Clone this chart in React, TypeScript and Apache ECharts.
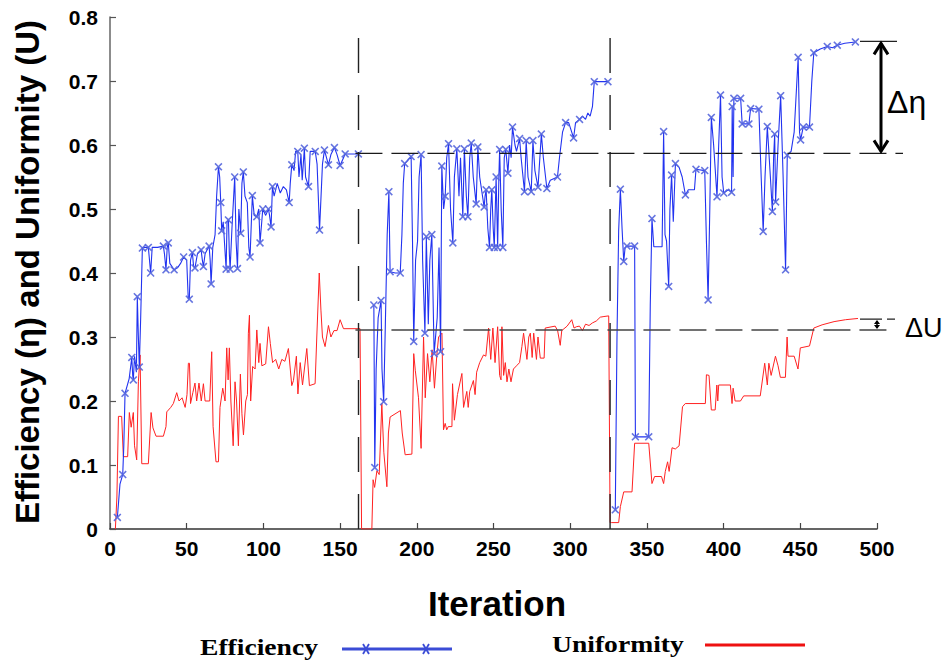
import React, { useEffect, useRef } from "react";
import * as echarts from "echarts";

// ---------- data (iteration, value, marker flag) ----------
const effPhase1: number[][] = [
  [4.8,0.018,1],[6.5,0.07,0],[8.3,0.085,1],[9,0.13,0],[9.8,0.212,1],[12.5,0.235,0],[14.2,0.268,1],[14.8,0.24,0],[15.2,0.233,1],[16,0.27,0],[17.2,0.245,0],[17.8,0.363,1],[18.5,0.3,0],[19.1,0.253,1],[20,0.33,0],[21.1,0.439,1],[23,0.44,0],[25,0.44,1],[26.5,0.4,1],[27.5,0.44,0],[31,0.44,0],[34.8,0.442,1],[35.5,0.43,0],[36.5,0.405,1],[37.3,0.44,0],[38,0.447,1],[39,0.415,0],[41.8,0.405,1],[44,0.408,0],[46,0.415,0],[48,0.425,1],[50,0.42,0],[51,0.36,0],[51.7,0.359,1],[52.5,0.42,0],[53.7,0.432,1],[54.5,0.41,0],[55.4,0.408,1],[57,0.43,0],[59.4,0.436,1],[60.2,0.42,0],[60.9,0.41,1],[62,0.43,0],[64.6,0.442,1],[65.3,0.42,0],[65.9,0.383,1],[67,0.44,0],[68.5,0.46,0],[69.5,0.52,0],[70.7,0.566,1],[71.5,0.55,0],[72.2,0.51,1],[72.8,0.466,1],[73.8,0.48,0],[75.7,0.406,1],[76.3,0.48,0],[77.2,0.483,1],[77.8,0.43,0],[78.3,0.406,1],[79.5,0.47,0],[81.3,0.55,1],[82.2,0.45,0],[83.1,0.407,1],[84,0.5,0],[85.2,0.462,1],[86,0.54,0],[86.9,0.558,1],[88,0.52,0],[89.5,0.51,0],[90.5,0.44,0],[91.3,0.425,1],[92.8,0.521,1],[94,0.49,0],[95.7,0.488,1],[97,0.5,0],[97.8,0.447,1],[99.6,0.5,1],[101.5,0.49,0],[103.3,0.5,1],[104,0.49,0],[105,0.472,1],[105.9,0.535,1],[107,0.52,0],[109,0.54,0],[111,0.525,0],[113,0.535,0],[115,0.53,0],[116.8,0.51,1],[117.5,0.54,0],[118.5,0.569,1],[120,0.56,0],[121,0.59,0],[122.4,0.59,1],[123.2,0.55,0],[124.5,0.585,0],[125.3,0.545,0],[126.7,0.595,1],[127.5,0.55,0],[129.4,0.535,1],[130.5,0.59,0],[133.8,0.59,1],[135,0.57,0],[136.6,0.467,1],[138.5,0.57,0],[139.8,0.592,1],[142.4,0.569,1],[144,0.585,0],[146.3,0.596,1],[148,0.585,0],[150,0.568,1],[153.3,0.586,1],[161.9,0.586,1]
];

const effPhase2: number[][] = [
  [172.0,0.35,1],[172.6,0.096,1],[173.5,0.25,0],[174.8,0.33,0],[176.7,0.357,1],[177.3,0.25,0],[178.4,0.199,1],[179.5,0.32,0],[180.7,0.46,0],[181.8,0.527,1],[182.6,0.402,1],[186,0.4,0],[189.2,0.4,1],[190.3,0.46,0],[191.2,0.54,0],[192.1,0.571,1],[196.3,0.582,1],[197.2,0.45,0],[198,0.293,1],[199.2,0.42,0],[200.5,0.45,0],[201.5,0.55,0],[202.8,0.585,1],[203.8,0.42,0],[205.3,0.306,1],[206.2,0.457,1],[207.5,0.32,0],[208.5,0.42,0],[209.8,0.46,1],[211.3,0.274,1],[213.3,0.33,0],[214.5,0.44,0],[215.5,0.277,1],[216.3,0.567,1],[217.5,0.5,0],[218.5,0.52,1],[219.5,0.58,0],[220.7,0.602,1],[222,0.5,0],[223.5,0.447,1],[224.5,0.55,0],[226.1,0.594,1],[227.5,0.52,0],[228.5,0.58,0],[230,0.488,1],[231,0.594,1],[232.3,0.52,0],[233.3,0.488,1],[234.5,0.58,0],[235.5,0.603,1],[236.8,0.55,0],[238.7,0.508,1],[239.8,0.597,1],[241,0.55,0],[243.9,0.503,1],[244.5,0.52,0],[245.2,0.53,1],[246.3,0.47,0],[247.4,0.44,1],[248.2,0.5,0],[248.9,0.53,1],[249.8,0.47,0],[250.5,0.44,1],[251.7,0.55,1],[252.7,0.44,1],[253.5,0.55,0],[254,0.593,1],[255,0.5,0],[256.1,0.44,1],[257,0.58,0],[258,0.593,1],[259.4,0.556,1],[260.5,0.6,0],[261.5,0.58,0],[262.4,0.628,1],[264,0.6,0],[265,0.59,0],[267,0.61,1],[268,0.58,0],[270.2,0.527,1],[271.3,0.607,1],[272.5,0.55,0],[274.6,0.527,1],[275.7,0.607,1],[277,0.56,0],[279,0.534,1],[281.2,0.617,1],[282.5,0.58,0],[284.8,0.532,1],[287,0.545,0],[291.7,0.55,1],[293,0.58,0],[295,0.62,0],[297,0.635,1],[299,0.635,0],[301,0.62,0],[302.2,0.611,1],[303.5,0.635,0],[306.1,0.64,1],[308,0.645,0],[310,0.64,0],[311.5,0.65,0],[313,0.645,0],[314.5,0.66,0],[315.7,0.699,1],[324.6,0.699,1]
];

const effPhase3: number[][] = [
  [329.4,0.03,1],[330.5,0.3,0],[331.6,0.467,0],[332.7,0.531,1],[333.8,0.47,0],[334.9,0.418,1],[335.8,0.44,0],[337,0.442,1],[342,0.442,1],[342.5,0.144,1],[351.2,0.144,1],[352.2,0.35,0],[353.3,0.485,1],[354.5,0.441,0],[359.9,0.441,0],[360.9,0.621,1],[361.8,0.46,0],[362.8,0.45,0],[364.2,0.379,1],[365,0.5,0],[366.1,0.553,1],[367.2,0.48,0],[368.6,0.571,1],[371,0.565,0],[373,0.55,0],[375.1,0.522,1],[377,0.53,0],[381,0.53,0],[382,0.562,1],[387.7,0.56,1],[388.8,0.45,0],[389.9,0.358,1],[391,0.5,0],[392,0.643,1],[393.5,0.6,0],[395.7,0.519,1],[396.8,0.6,0],[398,0.678,1],[399,0.55,0],[400.1,0.525,1],[403,0.53,0],[405.2,0.526,1],[405.6,0.66,1],[406.2,0.55,0],[406.7,0.673,1],[411.1,0.673,1],[412.1,0.633,1],[416.5,0.633,1],[417.6,0.657,1],[423,0.656,1],[424.5,0.55,0],[425.8,0.465,1],[427,0.55,0],[428.5,0.629,1],[430.5,0.55,0],[431.8,0.496,1],[432.6,0.58,0],[433.3,0.617,1],[433.9,0.511,1],[435.5,0.6,0],[437.2,0.677,1],[438.8,0.55,0],[440.4,0.405,1],[441.5,0.584,1],[444,0.59,0],[446,0.62,0],[448.6,0.737,1],[449.5,0.62,0],[450.2,0.608,1],[451.9,0.628,1],[456,0.628,1],[457.5,0.7,0],[458.8,0.744,1],[463,0.75,0],[467.6,0.754,1],[471,0.752,0],[474.1,0.756,1],[479,0.759,0],[485.9,0.761,1]
];

const uniPhase1: number[][] = [
  [3.5,0],[4.5,0.05],[5.5,0.176],[7.6,0.176],[8.7,0.113],[11.5,0.113],[12.6,0.182],[13.8,0.159],[15.2,0.182],[16,0.13],[17.4,0.108],[18.5,0.23],[19.6,0.272],[20.7,0.102],[25,0.102],[26.8,0.182],[28,0.158],[30,0.145],[34.8,0.145],[36.5,0.16],[37,0.183],[39.6,0.19],[41.3,0.196],[43.5,0.213],[45,0.2],[47,0.205],[49,0.19],[50.2,0.21],[51.1,0.259],[51.8,0.259],[52.5,0.196],[54,0.213],[55.4,0.228],[56.5,0.2],[58,0.228],[59.5,0.2],[60.9,0.227],[62,0.2],[65,0.2],[66.3,0.277],[67.2,0.16],[69.1,0.105],[70.7,0.105],[71.7,0.19],[73.5,0.22],[75,0.2],[76.1,0.283],[77,0.233],[77.8,0.283],[78.8,0.2],[80.3,0.13],[81.5,0.23],[82.5,0.2],[83.7,0.13],[85,0.242],[86,0.18],[87,0.147],[88.5,0.2],[89.6,0.21],[90.2,0.306],[90.9,0.334],[91.7,0.2],[93,0.254],[94.6,0.25],[95.7,0.311],[97,0.26],[97.8,0.29],[99,0.255],[101.5,0.258],[103.3,0.316],[104.5,0.29],[106,0.26],[108,0.265],[110,0.25],[112,0.265],[114,0.262],[116.3,0.282],[118.5,0.224],[119.6,0.232],[121.5,0.27],[122.5,0.211],[124,0.26],[125.5,0.225],[128.3,0.282],[130,0.224],[133.7,0.227],[134.8,0.3],[136.4,0.4],[137.5,0.342],[138.5,0.3],[140.2,0.285],[142.4,0.318],[144,0.3],[146,0.31],[148,0.31],[150,0.327],[152.2,0.313],[163,0.313],[164,0]
];

const uniPhase2: number[][] = [
  [170.7,0],[171.5,0.077],[172.5,0.065],[174,0.091],[175.5,0.085],[177.2,0.196],[178.5,0.12],[180.5,0.066],[181.5,0.15],[182.6,0.175],[189.3,0.185],[190.5,0.15],[192.4,0.116],[196.8,0.117],[198,0.274],[199,0.248],[201.1,0.205],[202.8,0.126],[204.4,0.3],[205.5,0.205],[207,0.274],[208.5,0.23],[210,0.28],[211.5,0.22],[213,0.27],[214.2,0.3],[216.4,0.306],[217.4,0.155],[218.5,0.165],[219.5,0.155],[220.5,0.16],[222.9,0.16],[223.3,0.227],[224.5,0.17],[226.5,0.21],[229.4,0.243],[230.5,0.19],[232.6,0.215],[233.5,0.19],[234.5,0.215],[236.9,0.232],[238,0.21],[239,0.245],[241,0.26],[243.5,0.272],[245,0.27],[246.8,0.314],[248.2,0.265],[249.6,0.314],[251,0.26],[252.7,0.316],[254,0.24],[254.9,0.233],[255.5,0.316],[256.6,0.24],[257.7,0.26],[258.8,0.23],[260,0.25],[261.4,0.23],[263,0.25],[265,0.255],[267,0.26],[268.5,0.285],[269.6,0.306],[271.8,0.265],[273,0.3],[274,0.306],[275.2,0.268],[276.2,0.306],[278,0.265],[279,0.3],[280.5,0.267],[283,0.267],[283.7,0.314],[290.2,0.317],[291.8,0.31],[293.5,0.287],[294.5,0.31],[298,0.317],[301,0.327],[302.5,0.314],[304,0.316],[306,0.317],[308,0.31],[310,0.32],[312.3,0.318],[314.5,0.322],[317,0.325],[319.6,0.331],[322,0.332],[325.1,0.333],[326,0.01]
];

const uniPhase3: number[][] = [
  [326.8,0.01],[331.6,0.01],[332.7,0.035],[334.9,0.058],[340.3,0.058],[342,0.134],[351.2,0.134],[353.3,0.071],[355,0.082],[359.5,0.082],[360.9,0.071],[362,0.09],[363.5,0.105],[364.5,0.09],[366.4,0.127],[368.5,0.125],[371,0.13],[373.2,0.191],[375,0.196],[388.1,0.196],[388.8,0.241],[390.5,0.24],[392,0.186],[394.5,0.186],[395.6,0.225],[396.2,0.2],[396.8,0.225],[404.4,0.225],[405.5,0.196],[406.2,0.22],[407.5,0.2],[411,0.2],[413.1,0.208],[423.9,0.208],[426.8,0.259],[428.5,0.225],[429.5,0.259],[431,0.24],[433.8,0.27],[435.5,0.255],[437,0.237],[440.3,0.237],[441.4,0.3],[442,0.27],[446,0.27],[448.5,0.25],[450,0.283],[456,0.286],[458.8,0.314],[464.2,0.319],[472,0.324],[479.4,0.327],[487.6,0.329]
];

// annotation levels
const phaseBoundaries = [162, 326];
const effReference = 0.587;
const effFinal = 0.762;
const uniReference = 0.311;
const uniFinal = 0.328;

const X_MARK =
  "path://M0,1.4L1.4,0L5,3.6L8.6,0L10,1.4L6.4,5L10,8.6L8.6,10L5,6.4L1.4,10L0,8.6L3.6,5Z";

const BLUE = "#2233f0";
const MARK = "#5566dd";
const RED = "#ff2222";

export default function App() {
  const ref = useRef<HTMLDivElement>(null);

  useEffect(() => {
    if (!ref.current) return;
    const chart = echarts.init(ref.current, null, { renderer: "svg" });
    const xy = (arr: number[][]) => arr.map((p) => [p[0], p[1]]);
    const marks = [...effPhase1, ...effPhase2, ...effPhase3]
      .filter((p) => p[2] === 1)
      .map((p) => [p[0], p[1]]);
    const uniAll = [...uniPhase1, ...uniPhase2, ...uniPhase3];

    const blueLine = (data: number[][]) => ({
      type: "line",
      data: xy(data),
      showSymbol: false,
      symbol: "none",
      lineStyle: { color: BLUE, width: 1.1 },
      z: 3,
    });

    const tickFont = {
      fontFamily: "Liberation Sans",
      fontWeight: "bold",
      fontSize: 21,
      color: "#000",
    };

    chart.setOption({
      animation: false,
      grid: { left: 110, top: 17, width: 767, height: 512, outerBoundsMode: "none" },
      xAxis: {
        type: "value",
        min: 0,
        max: 500,
        interval: 50,
        splitLine: { show: false },
        axisLine: { lineStyle: { color: "#333", width: 1.5 } },
        axisTick: { inside: true, length: 6, lineStyle: { color: "#444", width: 1.2 } },
        axisLabel: { ...tickFont, margin: 9 },
      },
      yAxis: {
        type: "value",
        min: 0,
        max: 0.8,
        interval: 0.1,
        splitLine: { show: false },
        axisLine: { show: true, lineStyle: { color: "#666", width: 1.5 } },
        axisTick: { show: true, inside: true, length: 6, lineStyle: { color: "#555", width: 1.2 } },
        axisLabel: { ...tickFont, margin: 12 },
      },
      series: [
        {
          type: "line",
          data: xy(uniAll),
          showSymbol: false,
          symbol: "none",
          lineStyle: { color: RED, width: 1 },
          z: 2,
        },
        blueLine(effPhase1),
        blueLine(effPhase2),
        blueLine(effPhase3),
        {
          type: "scatter",
          data: marks,
          symbol: X_MARK,
          symbolSize: 8,
          itemStyle: { color: MARK, opacity: 0.9 },
          z: 4,
        },
      ],
    });

    const P = (x: number, y: number) =>
      chart.convertToPixel({ gridIndex: 0 }, [x, y]) as number[];
    const right = P(500, 0)[0];
    const yEffRef = P(0, effReference)[1];
    const yEffFin = P(0, effFinal)[1];
    const yUniRef = P(0, uniReference)[1];
    const yUniFin = P(0, uniFinal)[1];

    const dashed = (x1: number, y1: number, x2: number, y2: number, dash: number[], color = "#1a1a1a", w = 1.4) => ({
      type: "line",
      shape: { x1, y1, x2, y2 },
      style: { stroke: color, lineWidth: w, lineDash: dash },
      z: 10,
    });
    const text = (t: string, x: number, y: number, font: string, extra: any = {}) => ({
      type: "text",
      x,
      y,
      ...extra,
      style: {
        text: t,
        font,
        fill: "#000",
        textAlign: extra.align || "left",
        textVerticalAlign: "middle",
        align: extra.align || "left",
        verticalAlign: "middle",
      },
      z: 20,
    });

    const graphics: any[] = [];
    phaseBoundaries.forEach((b) => {
      const a = P(b, 0);
      const c = P(b, 0.795);
      graphics.push(dashed(a[0], a[1], c[0], c[1], [35, 22], "#222", 1.4));
    });
    const startX = P(phaseBoundaries[0] - 2, 0)[0];
    graphics.push(dashed(startX, yEffRef, right + 26, yEffRef, [27, 9], "#1a1a1a", 1.3));
    graphics.push(dashed(startX, yUniRef, right + 12, yUniRef, [27, 9], "#444", 1.5));
    // Δη marker
    graphics.push({
      type: "line",
      shape: { x1: right - 17, y1: yEffFin, x2: right + 20, y2: yEffFin },
      style: { stroke: "#222", lineWidth: 1.3 },
      z: 10,
    });
    const ax = right + 4;
    graphics.push({
      type: "line",
      shape: { x1: ax, y1: yEffFin + 2, x2: ax, y2: yEffRef - 2 },
      style: { stroke: "#000", lineWidth: 3 },
      z: 11,
    });
    graphics.push({
      type: "polyline",
      shape: { points: [[ax - 7, yEffFin + 13], [ax, yEffFin + 2], [ax + 7, yEffFin + 13]] },
      style: { stroke: "#000", lineWidth: 3, fill: null },
      z: 11,
    });
    graphics.push({
      type: "polyline",
      shape: { points: [[ax - 7, yEffRef - 13], [ax, yEffRef - 2], [ax + 7, yEffRef - 13]] },
      style: { stroke: "#000", lineWidth: 3, fill: null },
      z: 11,
    });
    graphics.push(text("Δη", right + 10, (yEffFin + yEffRef) / 2 + 5, '32px "Liberation Sans"'));
    // ΔU marker
    graphics.push(dashed(right - 17, yUniFin, right + 18, yUniFin, [22, 5], "#222", 1.2));
    graphics.push({
      type: "line",
      shape: { x1: right, y1: yUniFin + 2, x2: right, y2: yUniRef - 2 },
      style: { stroke: "#000", lineWidth: 1.5 },
      z: 11,
    });
    graphics.push({
      type: "polygon",
      shape: { points: [[right - 3, yUniFin + 5], [right, yUniFin + 1], [right + 3, yUniFin + 5]] },
      style: { fill: "#000" },
      z: 11,
    });
    graphics.push({
      type: "polygon",
      shape: { points: [[right - 3, yUniRef - 5], [right, yUniRef - 1], [right + 3, yUniRef - 5]] },
      style: { fill: "#000" },
      z: 11,
    });
    graphics.push(text("ΔU", right + 28, yUniRef - 2, '27px "Liberation Sans"'));
    // axis names
    graphics.push(
      text("Efficiency (η) and Uniformity (U)", 27, 272, 'bold 33px "Liberation Sans"', {
        align: "center",
        rotation: Math.PI / 2,
      })
    );
    graphics.push(text("Iteration", 497, 603, 'bold 35px "Liberation Sans"', { align: "center" }));
    // legend
    graphics.push(text("Efficiency", 200, 647, 'bold 23px "Liberation Serif"', { scaleX: 1.2 }));
    graphics.push({
      type: "line",
      shape: { x1: 342, y1: 649, x2: 452, y2: 649 },
      style: { stroke: "#3b4cd6", lineWidth: 3 },
      z: 20,
    });
    [366, 426].forEach((mx) => {
      graphics.push({
        type: "line",
        shape: { x1: mx - 3, y1: 644, x2: mx + 3, y2: 654 },
        style: { stroke: "#3b4cd6", lineWidth: 1.8 },
        z: 21,
      });
      graphics.push({
        type: "line",
        shape: { x1: mx + 3, y1: 644, x2: mx - 3, y2: 654 },
        style: { stroke: "#3b4cd6", lineWidth: 1.8 },
        z: 21,
      });
    });
    graphics.push(text("Uniformity", 552, 644, 'bold 23px "Liberation Serif"', { scaleX: 1.2 }));
    graphics.push({
      type: "line",
      shape: { x1: 705, y1: 645, x2: 805, y2: 645 },
      style: { stroke: "#ee1111", lineWidth: 3 },
      z: 20,
    });

    chart.setOption({ graphic: graphics });

    return () => chart.dispose();
  }, []);

  return (
    <div
      ref={ref}
      style={{ position: "absolute", left: 0, top: 0, width: 948, height: 666, background: "#fff" }}
    />
  );
}
